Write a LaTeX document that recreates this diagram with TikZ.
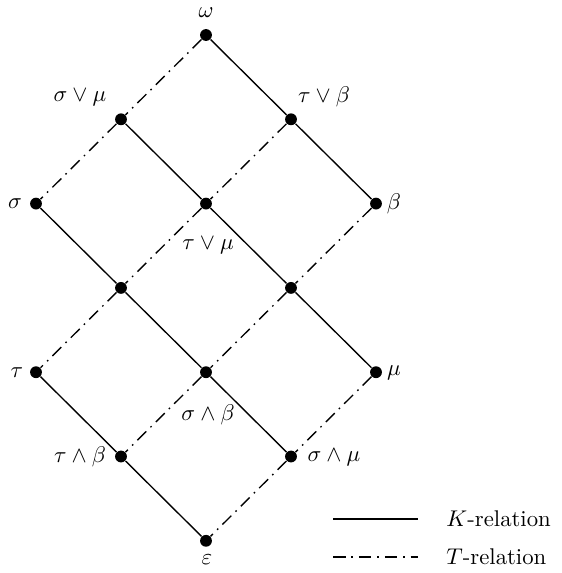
\documentclass[tikz,border=0pt]{standalone}
\usepackage{amsmath}
\begin{document}
\begin{tikzpicture}[x=0.44pt,y=-0.44pt,
  dot/.style={circle,fill=black,inner sep=0pt,minimum size=5.2pt},
  lbl/.style={inner sep=0pt},
  krel/.style={line width=0.6pt},
  trel/.style={line width=0.6pt,dash pattern=on 5.5pt off 2.6pt on 0.7pt off 2.6pt}]
\useasboundingbox (0,0) rectangle (561,573);
% lattice points
\node[dot] (w)   at (206,35) {};
\node[dot] (a10) at (121,119.3) {};
\node[dot] (a01) at (291,119.3) {};
\node[dot] (a20) at (36,203.6) {};
\node[dot] (a11) at (206,203.6) {};
\node[dot] (a02) at (376,203.6) {};
\node[dot] (a21) at (121,287.9) {};
\node[dot] (a12) at (291,287.9) {};
\node[dot] (a31) at (36,372.2) {};
\node[dot] (a22) at (206,372.2) {};
\node[dot] (a13) at (376,372.2) {};
\node[dot] (a32) at (121,456.5) {};
\node[dot] (a23) at (291,456.5) {};
\node[dot] (e)   at (206,540.8) {};
% labels
\node[lbl] (lw)   at (206,13)  {$\omega$};
\node[lbl] (l10)  at (80,97)   {$\sigma\vee\mu$};
\node[lbl] (l01)  at (324,97)  {$\tau\vee\beta$};
\node[lbl] (l20)  at (15,204)  {$\sigma$};
\node[lbl] (l02)  at (394,204) {$\beta$};
\node[lbl] (l11)  at (208,245) {$\tau\vee\mu$};
\node[lbl] (l31)  at (17,373)  {$\tau$};
\node[lbl] (l13)  at (394,373) {$\mu$};
\node[lbl] (l22)  at (208,415) {$\sigma\wedge\beta$};
\node[lbl] (l32)  at (80,457)  {$\tau\wedge\beta$};
\node[lbl] (l23)  at (334,457) {$\sigma\wedge\mu$};
\node[lbl] (le)   at (207,560) {$\varepsilon$};
% K-relation (solid)
\draw[krel] (w) -- (a01) -- (a02);
\draw[krel] (a10) -- (a11) -- (a12) -- (a13);
\draw[krel] (a20) -- (a21) -- (a22) -- (a23);
\draw[krel] (a31) -- (a32) -- (e);
% T-relation (dash-dot)
\draw[trel] (w) -- (a10) -- (a20);
\draw[trel] (a01) -- (a11) -- (a21) -- (a31);
\draw[trel] (a02) -- (a12) -- (a22) -- (a32);
\draw[trel] (a13) -- (a23) -- (e);
% legend
\coordinate (k1) at (333,519);
\coordinate (k2) at (418,519);
\coordinate (t1) at (333,557);
\coordinate (t2) at (418,557);
\draw[krel] (k1) -- (k2);
\draw[trel] (t1) -- (t2);
\node[lbl,anchor=west] (kt) at (446,519) {$K$-relation};
\node[lbl,anchor=west] (tt) at (446,557) {$T$-relation};
\end{tikzpicture}
\end{document}
